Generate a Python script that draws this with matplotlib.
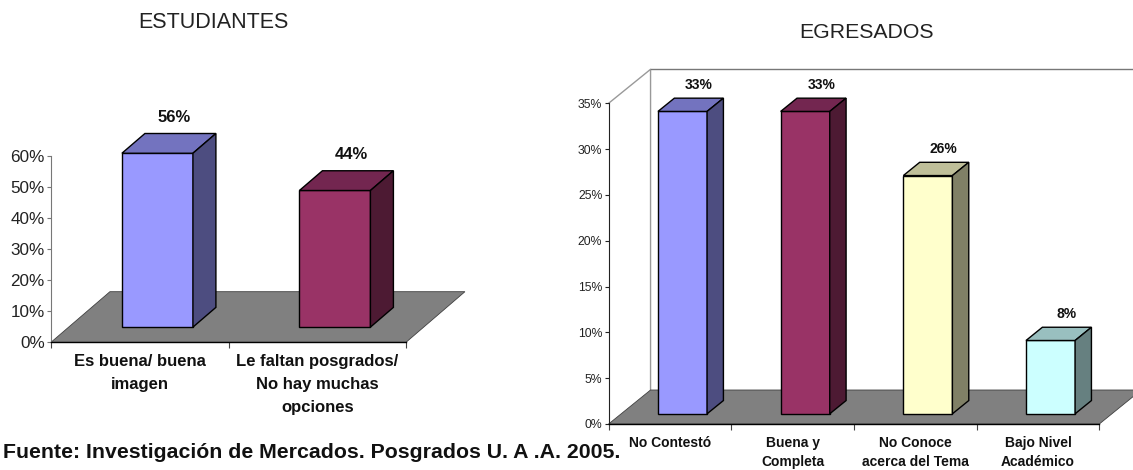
import matplotlib
matplotlib.use("Agg")
import matplotlib.pyplot as plt
from matplotlib.patches import Polygon

plt.rcParams['font.family'] = ['Liberation Sans', 'DejaVu Sans']

W, H = 1133, 470

est_labels = ["Es buena/ buena\nimagen", "Le faltan posgrados/\nNo hay muchas\nopciones"]
est_values = [56, 44]
est_ticks = [0, 10, 20, 30, 40, 50, 60]

egr_labels = ["No Contestó", "Buena y\nCompleta", "No Conoce\nacerca del Tema", "Bajo Nivel\nAcadémico"]
egr_values = [33, 33, 26, 8]
egr_ticks = [0, 5, 10, 15, 20, 25, 30, 35]

# front, top, side
est_colors = [("#9999FF", "#7373BF", "#4D4D80"), ("#993366", "#732650", "#4D1A33")]
egr_colors = [("#9999FF", "#7373BF", "#4D4D80"), ("#993366", "#732650", "#4D1A33"),
              ("#FFFFCC", "#BFBF99", "#808066"), ("#CCFFFF", "#99BFBF", "#668080")]


def make_axes(fig, left, right, top, bottom):
    return fig.add_axes([left / W, 1 - bottom / H, (right - left) / W, (bottom - top) / H])


def bars_3d(ax, values, colors, dx, dy, lab_dx, lab_dy, lab_size):
    """Fake excel style 3d bars, dx/dy = shift of the whole floor depth in data units."""
    n = len(values)
    # floor
    ax.add_patch(Polygon([(0, 0), (n, 0), (n + dx, dy), (dx, dy)], facecolor="#808080",
                         edgecolor="#404040", lw=0.6, clip_on=False, zorder=1))
    d0, d1 = 0.30, 0.69
    for i, (v, c) in enumerate(zip(values, colors)):
        x0 = i + 0.30 + d0 * dx
        x1 = i + 0.70 + d0 * dx
        base = d0 * dy
        off_x = (d1 - d0) * dx
        off_y = (d1 - d0) * dy
        ax.bar((x0 + x1) / 2, v, width=x1 - x0, bottom=base, color=c[0], edgecolor="black",
               lw=1.0, clip_on=False, zorder=3)
        ax.add_patch(Polygon([(x0, base + v), (x1, base + v), (x1 + off_x, base + v + off_y),
                              (x0 + off_x, base + v + off_y)], facecolor=c[1], edgecolor="black",
                             lw=1.0, clip_on=False, zorder=3))
        ax.add_patch(Polygon([(x1, base), (x1 + off_x, base + off_y), (x1 + off_x, base + v + off_y),
                              (x1, base + v)], facecolor=c[2], edgecolor="black",
                             lw=1.0, clip_on=False, zorder=3))
        ax.text((x0 + x1) / 2 + lab_dx, base + v + lab_dy, f"{v}%", ha="center", va="center",
                fontsize=lab_size, fontweight="bold", color="#111111", clip_on=False, zorder=4)


def style_axes(ax, n, ticks, labels, tick_size, cat_size, cat_pad, left_color, linespacing):
    ax.set_xlim(0, n)
    ax.set_ylim(ticks[0], ticks[-1])
    ax.patch.set_alpha(0)
    ax.spines["top"].set_visible(False)
    ax.spines["right"].set_visible(False)
    ax.spines["left"].set_color(left_color)
    ax.spines["left"].set_zorder(2)
    ax.spines["bottom"].set_zorder(5)
    ax.spines["bottom"].set_linewidth(1.0)
    ax.set_yticks(ticks)
    ax.set_yticklabels([f"{t}%" for t in ticks], fontsize=tick_size, color="#222222")
    ax.tick_params(axis="y", length=3, width=0.8, pad=1.5, color=left_color)
    ax.set_xticks(range(n + 1))
    ax.set_xticklabels([])
    ax.tick_params(axis="x", which="major", length=4.5, width=0.8, color="#444444")
    ax.set_xticks([i + 0.5 for i in range(n)], minor=True)
    ax.set_xticklabels(labels, minor=True, fontsize=cat_size, fontweight="bold",
                       linespacing=linespacing, color="#111111")
    ax.tick_params(axis="x", which="minor", length=0, pad=cat_pad)


fig = plt.figure(figsize=(W / 100, H / 100), dpi=100)
fig.patch.set_facecolor("white")

# ESTUDIANTES
ax1 = make_axes(fig, 51, 406, 156, 342.3)
bars_3d(ax1, est_values, est_colors, 0.332, 16.3, 0.095, 11.5, 12)
style_axes(ax1, 2, est_ticks, est_labels, 12.3, 12, 8.5, "#777777", 1.68)

# EGRESADOS
ax2 = make_axes(fig, 608.6, 1099.3, 103.3, 424)
dx2, dy2 = 0.342, 3.71
top2 = egr_ticks[-1]
ax2.plot([0, dx2, dx2], [top2, top2 + dy2, dy2], color="#999999", lw=1, clip_on=False, zorder=0)
ax2.plot([dx2, 4 + dx2], [top2 + dy2, top2 + dy2], color="#777777", lw=1, clip_on=False, zorder=0)
bars_3d(ax2, egr_values, egr_colors, dx2, dy2, 0.13, 2.9, 10)
style_axes(ax2, 4, egr_ticks, egr_labels, 8.8, 10, 8.5, "#222222", 1.5)

fig.text(138.5 / W, 1 - 23 / H, "ESTUDIANTES", fontsize=15.5, ha="left", va="center", color="#222222")
fig.text(799.5 / W, 1 - 32 / H, "EGRESADOS", fontsize=15.3, ha="left", va="center", color="#222222")
fig.text(3 / W, 1 - 452.5 / H, "Fuente: Investigación de Mercados. Posgrados U. A .A. 2005.",
         fontsize=15.3, fontweight="bold", ha="left", va="center", color="#111111")

fig.savefig("out.png", dpi=100)
